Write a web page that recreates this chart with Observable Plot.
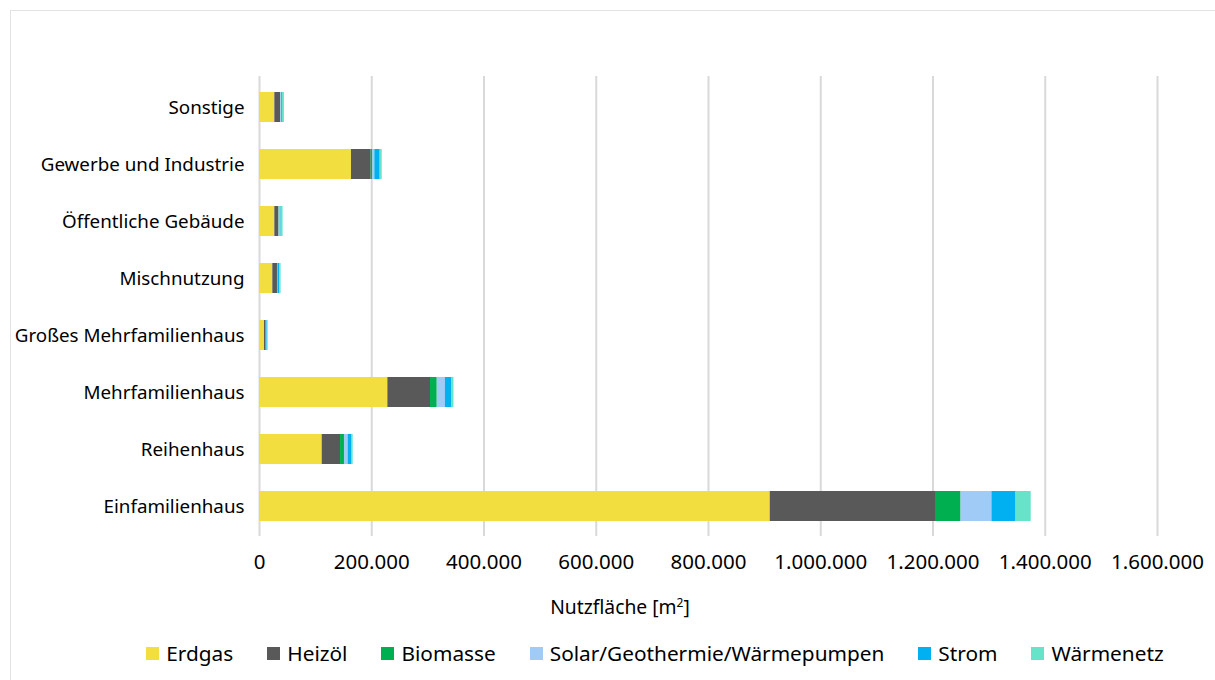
<!DOCTYPE html>
<html>
<head>
<meta charset="utf-8">
<script src="https://cdn.jsdelivr.net/npm/d3@7"></script>
<script src="https://cdn.jsdelivr.net/npm/@observablehq/plot@0.6"></script>
<style>
  html, body { margin: 0; padding: 0; background: #fff; }
  body { width: 1215px; height: 680px; position: relative; overflow: hidden; font-family: "Noto Sans", sans-serif; color: #000; }
  #frame { position: absolute; left: 10px; top: 10px; width: 1215px; height: 680px; border: 1px solid #e3e3e3; box-sizing: border-box; }
  #chart { position: absolute; left: 0; top: 0; }
  #xlabel { position: absolute; top: 593px; left: 0; width: 1240px; text-align: center; font-size: 19.3px; }
  #legend { position: absolute; top: 639px; left: 0; width: 1310px; display: flex; justify-content: center; gap: 34px; font-size: 20.8px; }
  #legend .item { display: flex; align-items: center; gap: 7px; }
  #legend .sw { width: 13px; height: 13px; display: inline-block; }
</style>
</head>
<body>
<div id="frame"></div>
<div id="chart"></div>
<div id="xlabel">Nutzfläche [m<sup style="font-size:12px">2</sup>]</div>
<div id="legend"></div>
<script>
const categories = ["Sonstige", "Gewerbe und Industrie", "Öffentliche Gebäude", "Mischnutzung", "Großes Mehrfamilienhaus", "Mehrfamilienhaus", "Reihenhaus", "Einfamilienhaus"];
const seriesNames = ["Erdgas", "Heizöl", "Biomasse", "Solar/Geothermie/Wärmepumpen", "Strom", "Wärmenetz"];
const seriesColors = ["#F2DF3F", "#595959", "#00B050", "#9FCBF6", "#00B0F0", "#66E3C8"];
const erdgas    = [27300, 163900, 27300, 23700, 8900, 228700, 111700, 910000];
const heizoel   = [10100, 35100, 7200, 8300, 3000, 76000, 32700, 296000];
const biomasse  = [500, 2900, 500, 500, 300, 12000, 7000, 44000];
const solar     = [1500, 3600, 2000, 500, 800, 14500, 6500, 55000];
const strom     = [1500, 9500, 1500, 3000, 1000, 11700, 6000, 43000];
const waermenetz= [3500, 3600, 3500, 2500, 1500, 3600, 3000, 27000];
const xTicks = [0, 200000, 400000, 600000, 800000, 1000000, 1200000, 1400000, 1600000];

const seriesValues = [erdgas, heizoel, biomasse, solar, strom, waermenetz];
const data = [];
seriesNames.forEach((s, i) => categories.forEach((c, j) => data.push({category: c, series: s, value: seriesValues[i][j]})));

const fmt = d => d3.format(",")(d).replace(/,/g, ".");

const plot = Plot.plot({
  width: 1215,
  height: 620,
  marginLeft: 259,
  marginRight: 58,
  marginTop: 76,
  marginBottom: 84,
  style: {fontFamily: "'Noto Sans', sans-serif", fontSize: "18px", color: "#000", background: "transparent"},
  x: {domain: [0, 1600000], ticks: xTicks, tickFormat: fmt, label: null},
  y: {domain: categories, paddingInner: 0.478, paddingOuter: 0.239, label: null},
  color: {domain: seriesNames, range: seriesColors},
  marks: [
    Plot.gridX(xTicks, {stroke: "#d9d9d9", strokeWidth: 2, strokeOpacity: 1}),
    Plot.barX(data, {y: "category", x: "value", fill: "series", order: null}),
    Plot.axisX({ticks: xTicks, tickFormat: fmt, tickSize: 0, tickPadding: 18, fontSize: 20.5, label: null}),
    Plot.axisY({tickSize: 0, tickPadding: 15, fontSize: 18.8, label: null})
  ]
});
document.getElementById("chart").appendChild(plot);

const legend = document.getElementById("legend");
seriesNames.forEach((s, i) => {
  const item = document.createElement("div");
  item.className = "item";
  const sw = document.createElement("span");
  sw.className = "sw";
  sw.style.background = seriesColors[i];
  const t = document.createElement("span");
  t.textContent = s;
  item.appendChild(sw);
  item.appendChild(t);
  legend.appendChild(item);
});
</script>
</body>
</html>
